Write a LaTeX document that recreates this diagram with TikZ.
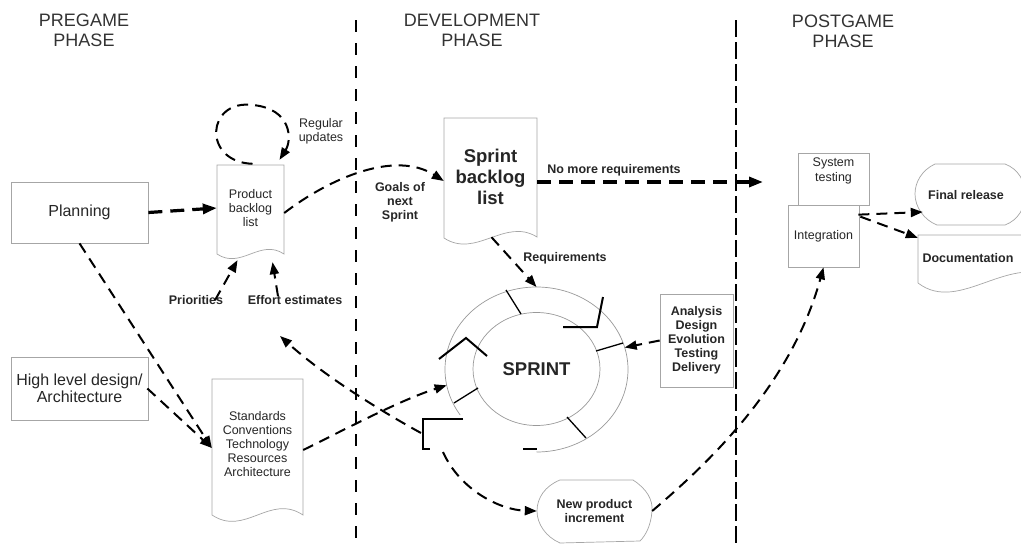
\documentclass[tikz,border=0pt]{standalone}
\usepackage{fontspec}
\setmainfont{Liberation Sans}
\usetikzlibrary{arrows.meta,shapes.geometric,calc}
\begin{document}
\begin{tikzpicture}[x=1pt,y=-1pt,
  shp/.style={draw=black!35, line width=0.7pt, fill=white},
  bx/.style={shp, inner sep=0pt, align=center, text=black!85},
  lbl/.style={inner sep=0pt, align=center, text=black!85, font=\fontsize{12.5}{14}\selectfont},
  blbl/.style={inner sep=0pt, align=center, text=black!85, font=\bfseries\fontsize{12.5}{14}\selectfont},
  ttl/.style={inner sep=0pt, align=center, text=black!80, font=\fontsize{18}{20}\selectfont},
  darr/.style={line width=2pt, dash pattern=on 11pt off 7pt, -{Triangle[length=12pt,width=9pt]}},
  tarr/.style={line width=3.2pt, dash pattern=on 14pt off 8pt, -{Triangle[length=14pt,width=10pt]}},
  ringline/.style={draw=black!40, line width=0.7pt},
  tick/.style={line width=1.3pt},
  hook/.style={line width=2pt}
]
\useasboundingbox (0,0) rectangle (1021,546);

% phase titles
\node[ttl] (t1) at (84,30) {PREGAME\\PHASE};
\node[ttl] (t2) at (472,30) {DEVELOPMENT\\PHASE};
\node[ttl] (t3) at (843,31) {POSTGAME\\PHASE};

% phase separators
\draw[line width=2.6pt, dash pattern=on 12pt off 11pt] (356,20) -- (356,546);
\draw[line width=1.2pt, dash pattern=on 17pt off 5pt] (736,20) -- (736,546);

% pregame boxes
\node[bx, minimum width=137, minimum height=61, font=\fontsize{16}{18}\selectfont] (plan) at (79.5,212.5) {Planning};
\node[bx, minimum width=137, minimum height=63, font=\fontsize{16}{17}\selectfont] (hld) at (79.5,388.5) {High level design/\\Architecture};

% product backlog document
\draw[shp] (217,165) -- (284,165) -- (284,254) .. controls (260,238) and (241,270) .. (217,254) -- cycle;
\node[lbl, minimum width=67, minimum height=86] (pb) at (250.5,208) {Product\\backlog\\list};

% standards document
\draw[shp] (212,379) -- (303,379) -- (303,515) .. controls (270,493) and (245,537) .. (212,515) -- cycle;
\node[lbl, minimum width=91] (std) at (257.5,444) {Standards\\Conventions\\Technology\\Resources\\Architecture};

% sprint backlog document
\draw[shp] (444,118) -- (537,118) -- (537,237) .. controls (505,217) and (476,259) .. (444,238) -- cycle;
\node[inner sep=0pt, align=center, text=black!85, font=\bfseries\fontsize{18.5}{21}\selectfont, minimum width=93, minimum height=118] (sbl) at (490.5,177) {Sprint\\backlog\\list};

% sprint ring
\node[ellipse, minimum width=183, minimum height=165, inner sep=0pt, outer sep=0pt] (ring) at (536.5,369.5) {};
\draw[ringline] (536.5,452) arc[start angle=90, end angle=-213.5, x radius=91.5, y radius=82.5];
\node[ellipse, ringline, fill=white, minimum width=127, minimum height=113, inner sep=0pt, font=\bfseries\fontsize{18.5}{20}\selectfont, text=black!85] (sprint) at (536.5,369) {SPRINT};
\draw[tick] (506,290) -- (521,314);
\draw[tick] (596,351) -- (623,343);
\draw[tick] (454,403) -- (478,388);
\draw[tick] (567,417) -- (586,438);
\draw[hook] (563,327) -- (597,327) -- (603,297);
\draw[hook] (439,359) -- (466,338) -- (487,356);
\draw[hook] (463,419) -- (423,419) -- (423,449) -- (430,449);
\draw[hook] (523,449) -- (537,449);
\coordinate (brk) at (421,433);
\coordinate (brkb) at (443,452);

% analysis box
\node[bx, minimum width=73, minimum height=93, font=\bfseries\fontsize{12.5}{14}\selectfont] (ana) at (696.5,340.5) {Analysis\\Design\\Evolution\\Testing\\Delivery};

% new product increment
\draw[shp] (560,480) -- (633,480) .. controls (647,489) and (653,500) .. (652,511) .. controls (651,525) and (646,535) .. (640,541) -- (560,543) .. controls (546,537) and (537,524) .. (537,511) .. controls (537,498) and (545,486) .. (560,480) -- cycle;
\node[blbl, minimum width=115, minimum height=63] (npi) at (594.5,511) {New product\\increment};

% postgame boxes
\node[bx, minimum width=71, minimum height=52, font=\fontsize{12.5}{15}\selectfont] (sys) at (833.5,179) {System\\testing\\[4pt]};
\node[bx, minimum width=71, minimum height=62, font=\fontsize{12.5}{14}\selectfont] (integ) at (823.5,236) {Integration};

% final release
\draw[shp] (1005,164) -- (935,164) .. controls (922,170) and (915,182) .. (915,194) .. controls (915,207) and (924,220) .. (937,225) -- (1005,225) .. controls (1032,215) and (1032,174) .. (1005,164) -- cycle;
\node[blbl, minimum width=102, minimum height=61] (fr) at (966,195) {Final release};

% documentation
\draw[shp] (918,235) -- (1060,235) -- (1060,280) .. controls (1010,250) and (960,315) .. (918,283) -- cycle;
\node[blbl, minimum width=100, minimum height=46] (doc) at (968,258) {Documentation};

% labels
\node[lbl] (reg) at (321,131) {Regular\\updates};
\node[blbl] (prio) at (196,300) {Priorities};
\node[blbl] (eff) at (295,300) {Effort estimates};
\node[blbl] (goals) at (400,202) {Goals of\\next\\Sprint};
\node[blbl] (nmrl) at (614,170) {No more requirements};
\node[blbl] (reql) at (565,258) {Requirements};
\coordinate (nmr) at (763,182);
\coordinate (effin) at (280,336);

% connectors
\draw[tarr] (plan.east) -- (pb.west);
\draw[darr] (plan.south) -- ($(std.west)+(0,4)$);
\draw[darr] ($(hld.east)+(-1,0)$) -- ($(std.west)+(0,4)$);
\draw[darr] ($(pb.north)+(2,-1)$) .. controls (202,162) and (206,99) .. (253,105) .. controls (292,109) and (292,140) .. ($(pb.north)+(29,-5)$);
\draw[darr] ($(prio.north)+(19,5)$) -- ($(pb.south)+(-13,9)$);
\draw[darr] ($(eff.north)+(-17,1)$) -- ($(pb.south)+(22,11)$);
\draw[darr] ($(pb.east)+(0,5)$) .. controls (330,178) and (395,150) .. ($(sbl.west)+(0,4)$);
\draw[tarr] ($(sbl.east)+(0,5)$) -- (nmr);
\draw[darr] ($(sbl.south)+(1,1)$) -- (ring.north);
\draw[darr] (ana.west) -- (ring.14);
\draw[darr] ($(std.east)+(0,6)$) .. controls (340,432) and (400,400) .. (ring.190);
\draw[darr] (brk) .. controls (370,405) and (320,372) .. (effin);
\draw[darr] (brkb) .. controls (460,490) and (500,510) .. (npi.west);
\draw[darr] (npi.east) .. controls (700,470) and (790,390) .. (integ.south);
\draw[darr] ($(integ.north east)+(-1,10)$) -- ($(fr.west)+(8,17)$);
\draw[darr] ($(integ.north east)+(1,12)$) -- ($(doc.north west)+(0,3)$);
\end{tikzpicture}
\end{document}
